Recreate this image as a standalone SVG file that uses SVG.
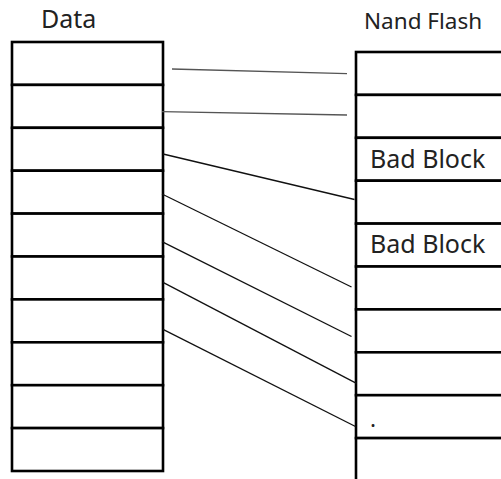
<svg xmlns="http://www.w3.org/2000/svg" width="501" height="479" viewBox="0 0 501 479">
<style>
.cell{fill:#fff;stroke:#000;stroke-width:2.6}
.lbl{font-family:"Noto Sans","DejaVu Sans",sans-serif;font-size:22.5px;fill:#222}
.big{font-size:25px}
.conn{stroke:#111;stroke-width:1.3;fill:none}
.conn.g{stroke:#555}
</style>
<rect width="501" height="479" fill="#fff"/>
<text class="lbl big" x="41" y="28">Data</text>
<text class="lbl" x="364" y="29">Nand Flash</text>
<g id="data-column">
<g id="d1"><rect class="cell" x="12" y="42" width="151" height="42.9"/></g>
<g id="d2"><rect class="cell" x="12" y="84.9" width="151" height="42.9"/></g>
<g id="d3"><rect class="cell" x="12" y="127.8" width="151" height="42.9"/></g>
<g id="d4"><rect class="cell" x="12" y="170.7" width="151" height="42.9"/></g>
<g id="d5"><rect class="cell" x="12" y="213.6" width="151" height="42.9"/></g>
<g id="d6"><rect class="cell" x="12" y="256.5" width="151" height="42.9"/></g>
<g id="d7"><rect class="cell" x="12" y="299.4" width="151" height="42.9"/></g>
<g id="d8"><rect class="cell" x="12" y="342.3" width="151" height="42.9"/></g>
<g id="d9"><rect class="cell" x="12" y="385.2" width="151" height="42.9"/></g>
<g id="d10"><rect class="cell" x="12" y="428.1" width="151" height="42.9"/></g>
</g>
<g id="flash-column">
<g id="f1"><rect class="cell" x="356" y="52" width="170" height="42.9"/></g>
<g id="f2"><rect class="cell" x="356" y="94.9" width="170" height="42.9"/></g>
<g id="f3"><rect class="cell" x="356" y="137.8" width="170" height="42.9"/><text class="lbl big" x="370" y="168">Bad Block</text></g>
<g id="f4"><rect class="cell" x="356" y="180.7" width="170" height="42.9"/></g>
<g id="f5"><rect class="cell" x="356" y="223.6" width="170" height="42.9"/><text class="lbl big" x="370" y="253">Bad Block</text></g>
<g id="f6"><rect class="cell" x="356" y="266.5" width="170" height="42.9"/></g>
<g id="f7"><rect class="cell" x="356" y="309.4" width="170" height="42.9"/></g>
<g id="f8"><rect class="cell" x="356" y="352.3" width="170" height="42.9"/></g>
<g id="f9"><rect class="cell" x="356" y="395.2" width="170" height="42.9"/><text class="lbl" x="370" y="427">.</text></g>
<g id="f10"><rect class="cell" x="356" y="438.1" width="170" height="60"/></g>
</g>
<g id="connectors">
<line class="conn g" x1="172" y1="69" x2="347" y2="73.7"/>
<line class="conn g" x1="162" y1="111.7" x2="347" y2="115"/>
<line class="conn" x1="163" y1="154" x2="354.5" y2="199.5"/>
<line class="conn" x1="162" y1="194" x2="351.5" y2="287"/>
<line class="conn" x1="162" y1="241.7" x2="351.5" y2="336.5"/>
<line class="conn" x1="163" y1="282.3" x2="356.5" y2="383.3"/>
<line class="conn" x1="163" y1="329.3" x2="355.5" y2="426.5"/>
</g>
</svg>
